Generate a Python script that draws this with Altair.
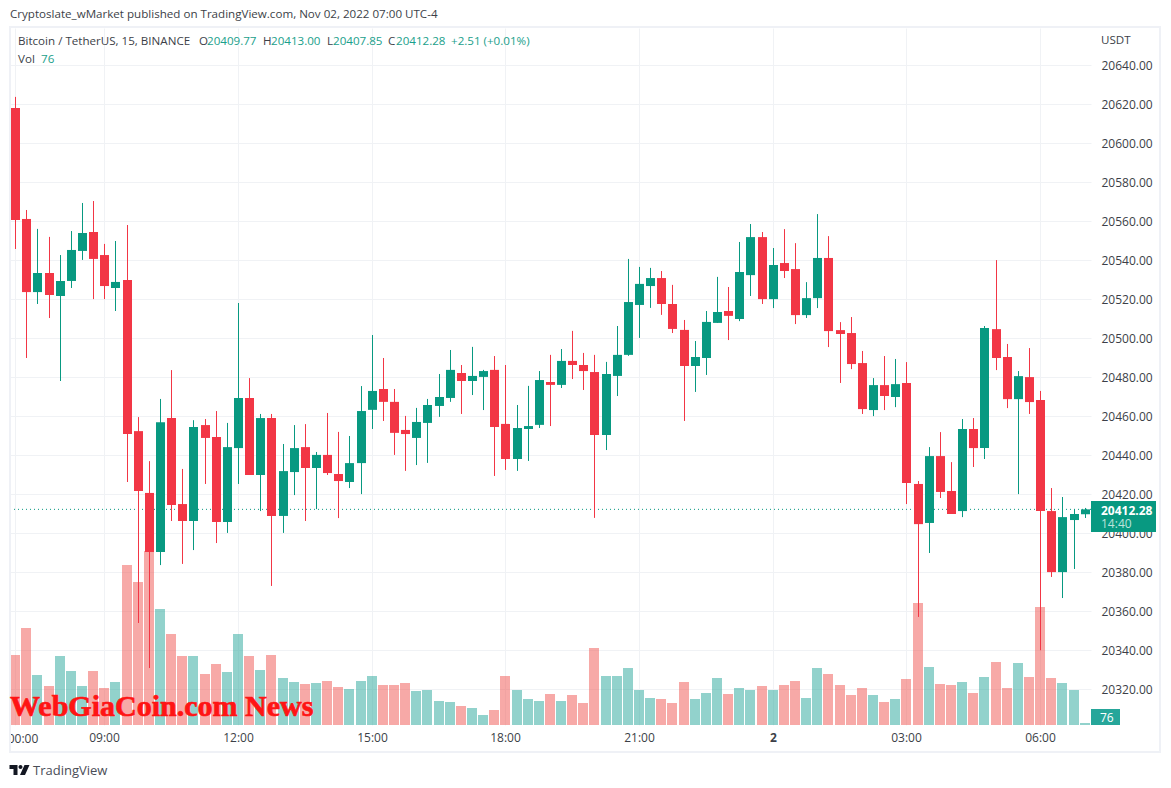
import altair as alt
import pandas as pd

opens = [20618.1,20561.2,20523.7,20533.5,20521.7,20529.4,20544.8,20554.5,20542.7,20525.8,
20529.9,20452.4,20420.7,20390.4,20459.1,20415,20406.3,20455.5,20449.4,20405.8,
20443.7,20469.4,20429.9,20459.1,20408.9,20431.4,20444.2,20433.5,20440.2,20430.4,
20426.3,20436,20463.3,20474,20467.4,20453,20448.9,20456.6,20465.3,20469.4,
20482.2,20478.1,20480.2,20483.8,20456.1,20438.1,20453.5,20455.6,20477.6,20476.1,
20488.4,20486.3,20482.7,20450.4,20480.7,20491.5,20517.1,20526.8,20530.9,20517.6,
20504.3,20485.8,20489.9,20507.9,20514,20509.9,20532.4,20551.9,20520.1,20538.6,
20535.5,20511.9,20520.6,20541.2,20504.2,20502.7,20487.3,20463.2,20476,20469.9,
20477.1,20425.3,20405.3,20439.6,20421.7,20411.4,20453.5,20443.7,20504.7,20490.4,
20468.8,20480.1,20468.3,20411.4,20380.1,20406.8,20409.77]
highs = [20623.8,20565.8,20556.1,20552,20542.7,20555,20569.4,20570.4,20548.4,20549.9,
20558.1,20459.6,20437,20468.9,20483.7,20433,20458,20458.6,20462.7,20456.6,
20518.1,20479.6,20461.2,20461.2,20445.8,20455.5,20456,20441.7,20461.7,20452,
20449.9,20475.5,20501.7,20489.9,20474,20460.2,20464.3,20468.9,20481.7,20494,
20486.3,20495.6,20483.8,20490.9,20486.3,20465.8,20475.6,20483.2,20491.5,20494.5,
20503.8,20492.5,20491.5,20487.9,20506.3,20540.7,20536.6,20536.1,20534.5,20527.4,
20509.4,20498.6,20514,20531.5,20526.3,20549.4,20558.6,20554.5,20546.3,20556,
20548.8,20528.8,20563.7,20552.4,20508.3,20510.9,20493.5,20479.6,20490.9,20489.4,
20487.8,20426.8,20444.2,20451.9,20436.5,20458.6,20459.1,20506.3,20540.1,20497.1,
20483.2,20495,20473,20423.2,20418.6,20412.4,20413]
lows = [20545.8,20489.9,20517.6,20510.4,20478.1,20525.8,20540.2,20520.1,20520.1,20514,
20426.3,20354,20330.9,20383.7,20406.3,20384.3,20391.4,20425.3,20395,20400.2,
20425.3,20429.9,20411.4,20373,20400.2,20419.6,20406.3,20412.4,20429.9,20407.8,
20423.2,20420.1,20453.5,20457.6,20440.2,20432,20435,20436.1,20459.7,20467.4,
20461.2,20470.9,20463.2,20429.4,20432.5,20432,20437.1,20454,20455,20474.5,
20479.1,20473.5,20407.9,20442.7,20470.4,20491,20500.2,20515.6,20512,20502.7,
20457.6,20472.5,20481.2,20507.9,20499.1,20508.8,20521.7,20517.6,20515.5,20530.9,
20507.3,20510.4,20515.5,20495.5,20477.1,20484.2,20461.2,20460.1,20463.2,20464.7,
20415,20357.1,20389.9,20418.1,20409.9,20408.3,20434,20438.1,20483.7,20464.2,
20420.1,20461.2,20340,20377.6,20366.8,20381.7,20407.85]
closes = [20560.7,20523.7,20533.5,20522.2,20529.4,20545.3,20554,20540.7,20526.8,20528.9,
20450.9,20421.7,20390.4,20457,20414.5,20406.3,20454.5,20448.9,20405.8,20444.2,
20469.4,20429.9,20459.1,20408.9,20431.9,20443.7,20433.5,20440.2,20430.9,20426.8,
20436,20462.7,20473,20467.4,20451.5,20450.9,20457.1,20465.8,20469.9,20483.8,
20478.1,20480.7,20483.2,20454.5,20438.1,20454,20455,20478.6,20476.1,20488.4,
20486.3,20483.2,20450.4,20481.7,20491.5,20518.6,20527.9,20530.9,20517.6,20504.8,
20485.8,20490.4,20508.4,20513.5,20511.5,20534,20551.9,20520.1,20537.6,20534.5,
20511.9,20520.6,20541.2,20503.7,20502.2,20486.8,20463.7,20476,20470.4,20476.5,
20425.8,20404.7,20439.6,20421.2,20409.9,20453.5,20443.7,20505.3,20489.9,20468.8,
20480.6,20467.3,20411.4,20380.1,20408.3,20409.9,20412.28]
volumes = [2660,3686,1900,1482,2622,2052,1482,2052,1406,1634,
6080,5434,6612,4408,3458,2622,2622,1938,2318,2014,
3458,2622,2090,2660,1786,1634,1558,1596,1672,1444,
1368,1672,1862,1520,1520,1596,1292,1330,912,874,
722,646,380,570,1862,1330,988,912,1178,912,
1140,836,2926,1862,1862,2166,1330,1026,988,836,
1634,988,1216,1786,1178,1406,1330,1482,1330,1520,
1672,1026,2166,1938,1520,1140,1406,1140,874,988,
1748,4636,2204,1558,1520,1634,1216,1824,2394,1406,
2356,1824,4484,1786,1596,1330,76]

price_ticks = [20320 + 20 * k for k in range(17)]
time_ticks = [0, 8, 20, 32, 44, 56, 68, 80, 92]
time_labels = ["", "09:00", "12:00", "15:00", "18:00", "21:00", "2", "03:00", "06:00"]
last_price = 20412.28

FONT = "Open Sans"
UP, DOWN = "#089981", "#F23645"
INK = "#3c3f48"
GRID = "#f0f2f5"
W, H = 1081, 697
OX, OY = 10, 28

df = pd.DataFrame({"i": range(len(opens)), "open": opens, "high": highs, "low": lows,
                   "close": closes, "vol": volumes})
df["dir"] = ["up" if c >= o else "down" for o, c in zip(opens, closes)]

x_scale = alt.Scale(domain=[-0.467, 96.57], range=[0, W], round=True, nice=False, zero=False, padding=0)
price_scale = alt.Scale(domain=[20301.69, 20659.13], nice=False, zero=False)
vol_scale = alt.Scale(domain=[0, 26486], nice=False, zero=True)
cdir = alt.Color("dir:N", scale=alt.Scale(domain=["up", "down"], range=[UP, DOWN]), legend=None)
cvol = alt.Color("dir:N", scale=alt.Scale(domain=["up", "down"], range=["#26a69a", "#ef5350"]), legend=None)

label_map = ",".join(f"'{v}':'{t}'" for v, t in zip(time_ticks, time_labels))
x_axis = alt.Axis(values=time_ticks, labelExpr="{" + label_map + "}[datum.value]",
                  title=None, domain=False, ticks=False, grid=True, gridColor=GRID, gridWidth=1,
                  labelFont=FONT, labelFontSize=12, labelColor=INK, labelPadding=7,
                  labelOverlap=False, labelFlush=False,
                  labelFontWeight=alt.expr("datum.value==68?'bold':'normal'"))
x_enc = alt.X("i:Q", scale=x_scale, axis=x_axis)

vol = alt.Chart(df).mark_bar(size=10, opacity=0.5, clip=True).encode(
    x=x_enc,
    y=alt.Y("vol:Q", scale=vol_scale, axis=None),
    color=cvol,
)
grid_prices = alt.Chart(pd.DataFrame({"p": price_ticks})).mark_rule(opacity=0).encode(
    y=alt.Y("p:Q", scale=price_scale, axis=alt.Axis(
        orient="right", values=price_ticks, format=".2f", title=None, domain=False, ticks=False,
        grid=True, gridColor=GRID, gridWidth=1, labelFont=FONT, labelFontSize=12,
        labelColor=INK, labelPadding=10, labelOverlap=False)),
)
last_line = alt.Chart(pd.DataFrame({"p": [last_price]})).mark_rule(
    color=UP, strokeWidth=1, strokeDash=[1, 3]).encode(
    y=alt.Y("p:Q", scale=price_scale, axis=None))
wicks = alt.Chart(df).mark_rule(strokeWidth=1, xOffset=0.5).encode(
    x=x_enc,
    y=alt.Y("low:Q", scale=price_scale, axis=None),
    y2="high:Q",
    color=cdir,
)
bodies = alt.Chart(df).mark_bar(size=9, xOffset=0.5).encode(
    x=x_enc,
    y=alt.Y("open:Q", scale=price_scale, axis=None),
    y2="close:Q",
    color=cdir,
)


def text(s, x, y, color=INK, size=11.6, weight="normal", font=FONT, align="left", baseline="middle", **kw):
    return alt.Chart(pd.DataFrame({"t": [s]})).mark_text(
        align=align, baseline=baseline, font=font, fontSize=size, fontWeight=weight, color=color, **kw
    ).encode(x=alt.value(x - OX), y=alt.value(y + 1 - OY), text="t:N")


def box(x0, y0, x1, y1, fill):
    return alt.Chart(pd.DataFrame({"a": [0]})).mark_rect(color=fill).encode(
        x=alt.value(x0 - OX), x2=alt.value(x1 - OX), y=alt.value(y0 - OY), y2=alt.value(y1 - OY))


frame = alt.Chart(pd.DataFrame({"a": [0]})).mark_rect(
    fillOpacity=0, stroke="#eff1f6", strokeWidth=2).encode(
    x=alt.value(0), x2=alt.value(1150), y=alt.value(-1), y2=alt.value(724))

LOGO = ("M-1,-0.5 H-0.2 V0.5 H-0.6 V-0.1 H-1 Z "
        "M0.3,-0.3 A0.2,0.2 0 1 1 -0.1,-0.3 A0.2,0.2 0 1 1 0.3,-0.3 Z "
        "M0.5,-0.5 H1 L0.55,0.5 H0.05 Z")
logo = alt.Chart(pd.DataFrame({"a": [0]})).mark_point(
    shape=LOGO, size=400, filled=True, color="#131722", opacity=1, strokeWidth=0).encode(
    x=alt.value(19.5 - OX), y=alt.value(770 - OY))

green_txt = "#1aa08b"
overlays = [
    text("00:00", 23, 738, size=12, align="center"),
    box(6, 728, 10, 750, "#ffffff"),
    frame,
    text("Cryptoslate_wMarket published on TradingView.com, Nov 02, 2022 07:00 UTC-4", 10, 14),
    text("Bitcoin / TetherUS, 15, BINANCE", 18, 41),
    text("O", 199, 41), text("20409.77", 207, 41, green_txt),
    text("H", 263, 41), text("20413.00", 271, 41, green_txt),
    text("L", 327, 41), text("20407.85", 333, 41, green_txt),
    text("C", 388, 41), text("20412.28", 396, 41, green_txt),
    text("+2.51 (+0.01%)", 451, 41, green_txt),
    text("Vol", 18, 59), text("76", 41, 59, green_txt),
    text("USDT", 1101, 40),
    box(1091, 501, 1156, 532, UP),
    text("20412.28", 1101, 510, "#ffffff", size=12, weight="bold"),
    text("14:40", 1101, 523, "#bde3dc", size=12),
    box(1091, 709, 1120, 725, "#26a69a"),
    text("76", 1100, 717, "#ffffff", size=12),
    text("WebGiaCoin.com News", 10, 706, "#ff1414", size=30, weight="bold",
         font="Liberation Serif", stroke="#ff1414", strokeWidth=0.7),
    logo,
    text("TradingView", 33, 770, "#4a4d57", size=13),
]

chart = alt.layer(vol, grid_prices, last_line, wicks, bodies, *overlays).resolve_scale(
    y="independent", color="independent"
).properties(
    width=W, height=H, autosize="none", background="#ffffff",
    padding={"left": 2, "top": 20, "right": 72, "bottom": 55},
).configure_view(strokeWidth=0)

chart.save("out.html", embed_options={"renderer": "svg", "actions": False})
